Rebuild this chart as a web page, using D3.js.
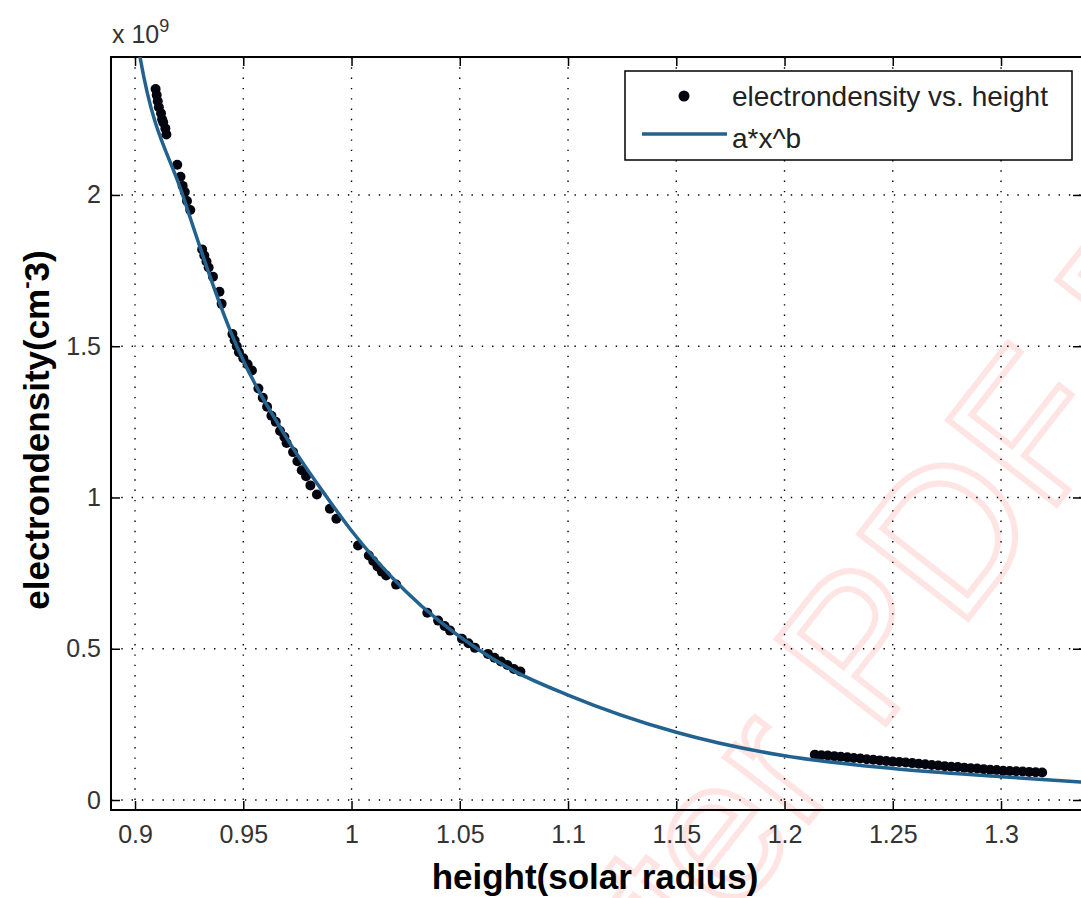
<!DOCTYPE html>
<html>
<head>
<meta charset="utf-8">
<script src="https://cdn.jsdelivr.net/npm/d3@7"></script>
<style>
  body { margin: 0; background: #fff; }
  svg { display: block; font-family: "Liberation Sans", Arial, sans-serif; }
  .grid line { stroke: #000; stroke-width: 1.4; stroke-dasharray: 1.4, 8.9; }
  .tick text { fill: #333; font-size: 25px; }
</style>
</head>
<body>
<script>
// values are in units of 1e9 cm^-3 (axis shows "x 10^9")
var xTicks = [0.9, 0.95, 1, 1.05, 1.1, 1.15, 1.2, 1.25, 1.3];
var xTickLabels = ["0.9", "0.95", "1", "1.05", "1.1", "1.15", "1.2", "1.25", "1.3"];
var yTicks = [0, 0.5, 1, 1.5, 2];
var yTickLabels = ["0", "0.5", "1", "1.5", "2"];

// measured points: electron density vs. height
var heightLow = [0.9095, 0.910, 0.9105, 0.911, 0.912, 0.9125, 0.913, 0.914, 0.9145, 0.9195,
    0.921, 0.922, 0.923, 0.924, 0.9255, 0.931, 0.932, 0.933, 0.934, 0.936,
    0.939, 0.940, 0.945, 0.946, 0.947, 0.948, 0.950, 0.952, 0.954, 0.957,
    0.959, 0.961, 0.963, 0.965, 0.967, 0.969, 0.970, 0.973, 0.975, 0.977,
    0.979, 0.981, 0.984, 0.990, 0.993, 1.003, 1.008, 1.010, 1.012, 1.014,
    1.016, 1.0206, 1.035, 1.040, 1.043, 1.0455, 1.051, 1.054, 1.057, 1.063,
    1.066, 1.069, 1.072, 1.075, 1.078];
var densityLow = [2.35, 2.33, 2.31, 2.29, 2.27, 2.25, 2.24, 2.22, 2.20, 2.10,
    2.06, 2.03, 2.01, 1.98, 1.95, 1.82, 1.80, 1.78, 1.76, 1.73,
    1.68, 1.64, 1.54, 1.52, 1.50, 1.48, 1.46, 1.44, 1.42, 1.36,
    1.33, 1.30, 1.27, 1.25, 1.22, 1.20, 1.18, 1.15, 1.12, 1.09,
    1.07, 1.04, 1.01, 0.963, 0.930, 0.841, 0.808, 0.790, 0.772, 0.755,
    0.742, 0.712, 0.619, 0.593, 0.575, 0.560, 0.533, 0.518, 0.503, 0.483,
    0.470, 0.458, 0.446, 0.433, 0.425];
var heightHigh = [1.214, 1.217, 1.220, 1.223, 1.226, 1.229, 1.232, 1.235, 1.238, 1.241,
    1.244, 1.247, 1.250, 1.253, 1.256, 1.259, 1.262, 1.265, 1.268, 1.271,
    1.274, 1.277, 1.280, 1.283, 1.286, 1.289, 1.292, 1.295, 1.298, 1.301,
    1.304, 1.307, 1.310, 1.313, 1.316, 1.319];
var densityHigh = [0.150, 0.148, 0.147, 0.145, 0.143, 0.141, 0.139, 0.137, 0.135, 0.133,
    0.131, 0.129, 0.127, 0.126, 0.124, 0.122, 0.120, 0.118, 0.116, 0.114,
    0.112, 0.110, 0.109, 0.107, 0.105, 0.104, 0.102, 0.100, 0.099, 0.097,
    0.096, 0.095, 0.094, 0.093, 0.092, 0.091];

// fitted curve a*x^b
var fitHeight = [0.895, 0.9023, 0.922, 0.947, 0.97, 0.9887, 1.0, 1.025, 1.058, 1.075,
    1.1, 1.15, 1.2, 1.25, 1.3, 1.34];
var fitDensity = [2.80, 2.456, 2.00, 1.50, 1.197, 1.0, 0.89, 0.69, 0.50, 0.427,
    0.347, 0.224, 0.146, 0.104, 0.077, 0.058];

var width = 1081;
var height = 898;
var plotL = 111, plotR = 1082, plotT = 57, plotB = 810;

var svg = d3.select("body")
    .append("svg")
    .attr("width", width)
    .attr("height", height);

var x = d3.scaleLinear().domain([0.8889, 1.3374]).range([plotL, plotR]);
var y = d3.scaleLinear().domain([-0.033, 2.456]).range([plotB, plotT]);

// faint watermark behind everything
svg.append("text")
    .attr("transform", "translate(465,1262) rotate(-52)")
    .attr("font-size", 200)
    .attr("fill", "none")
    .attr("stroke", "#ffe4e4")
    .attr("stroke-width", 6)
    .text("Master PDF Editor");

svg.append("defs").append("clipPath")
    .attr("id", "plot")
    .append("rect")
    .attr("x", plotL).attr("y", plotT)
    .attr("width", plotR - plotL).attr("height", plotB - plotT);

// grid
var grid = svg.append("g").attr("class", "grid");
grid.selectAll(".vx")
    .data(xTicks)
    .enter().append("line")
    .attr("x1", function(d) { return x(d); })
    .attr("x2", function(d) { return x(d); })
    .attr("y1", plotT).attr("y2", plotB);
grid.selectAll(".hy")
    .data(yTicks)
    .enter().append("line")
    .attr("x1", plotL).attr("x2", plotR)
    .attr("y1", function(d) { return y(d); })
    .attr("y2", function(d) { return y(d); });

// axes, ticks pointing inward like matlab
var xAxis = d3.axisBottom(x).tickValues(xTicks)
    .tickFormat(function(d, i) { return xTickLabels[i]; })
    .tickSize(-9).tickSizeOuter(0).tickPadding(15);
var yAxis = d3.axisLeft(y).tickValues(yTicks)
    .tickFormat(function(d, i) { return yTickLabels[i]; })
    .tickSize(-9).tickSizeOuter(0).tickPadding(10);

svg.append("g").attr("transform", "translate(0," + plotB + ")").call(xAxis);
svg.append("g").attr("transform", "translate(0," + plotT + ")")
    .call(d3.axisTop(x).tickValues(xTicks).tickFormat("").tickSize(-9).tickSizeOuter(0));
svg.append("g").attr("transform", "translate(" + plotL + ",0)").call(yAxis);
svg.append("g").attr("transform", "translate(" + plotR + ",0)")
    .call(d3.axisRight(y).tickValues(yTicks).tickFormat("").tickSize(-9).tickSizeOuter(0));

svg.selectAll(".domain").remove();
svg.selectAll(".tick line").attr("stroke", "#000").attr("stroke-width", 1.5);

// box
svg.append("rect")
    .attr("x", plotL).attr("y", plotT)
    .attr("width", plotR - plotL).attr("height", plotB - plotT)
    .attr("fill", "none")
    .attr("stroke", "#000")
    .attr("stroke-width", 2);

var plot = svg.append("g").attr("clip-path", "url(#plot)");

var points = heightLow.map(function(h, i) { return [h, densityLow[i]]; })
    .concat(heightHigh.map(function(h, i) { return [h, densityHigh[i]]; }));

plot.selectAll("circle")
    .data(points)
    .enter().append("circle")
    .attr("cx", function(d) { return x(d[0]); })
    .attr("cy", function(d) { return y(d[1]); })
    .attr("r", 5)
    .attr("fill", "#05050f");

var line = d3.line()
    .x(function(d, i) { return x(d); })
    .y(function(d, i) { return y(fitDensity[i]); })
    .curve(d3.curveMonotoneX);

plot.append("path")
    .attr("d", line(fitHeight))
    .attr("fill", "none")
    .attr("stroke", "#23628f")
    .attr("stroke-width", 3.5);

// exponent label
var expo = svg.append("text")
    .attr("x", plotL + 1).attr("y", 43)
    .attr("font-size", 25)
    .attr("fill", "#333");
expo.append("tspan").text("x 10");
expo.append("tspan").attr("font-size", 18).attr("dy", -11).text("9");

// axis labels
svg.append("text")
    .attr("x", 595).attr("y", 889)
    .attr("text-anchor", "middle")
    .attr("font-size", 35)
    .attr("font-weight", "bold")
    .text("height(solar radius)");

var yl = svg.append("text")
    .attr("transform", "translate(49,430) rotate(-90)")
    .attr("text-anchor", "middle")
    .attr("font-size", 35)
    .attr("font-weight", "bold");
yl.append("tspan").text("electrondensity(cm");
yl.append("tspan").attr("font-size", 22).attr("dy", -16).text("-");
yl.append("tspan").attr("dy", 16).text("3)");

// legend
var legend = svg.append("g");
legend.append("rect")
    .attr("x", 625).attr("y", 71)
    .attr("width", 447).attr("height", 89)
    .attr("fill", "#fff")
    .attr("stroke", "#000")
    .attr("stroke-width", 1.5);
legend.append("circle")
    .attr("cx", 684).attr("cy", 96).attr("r", 5.5)
    .attr("fill", "#05050f");
legend.append("line")
    .attr("x1", 642).attr("x2", 727)
    .attr("y1", 134).attr("y2", 134)
    .attr("stroke", "#23628f")
    .attr("stroke-width", 3.5);
legend.append("text")
    .attr("x", 732).attr("y", 106)
    .attr("font-size", 28).attr("fill", "#222")
    .text("electrondensity vs. height");
legend.append("text")
    .attr("x", 732).attr("y", 148)
    .attr("font-size", 28).attr("fill", "#222")
    .text("a*x^b");
</script>
</body>
</html>
